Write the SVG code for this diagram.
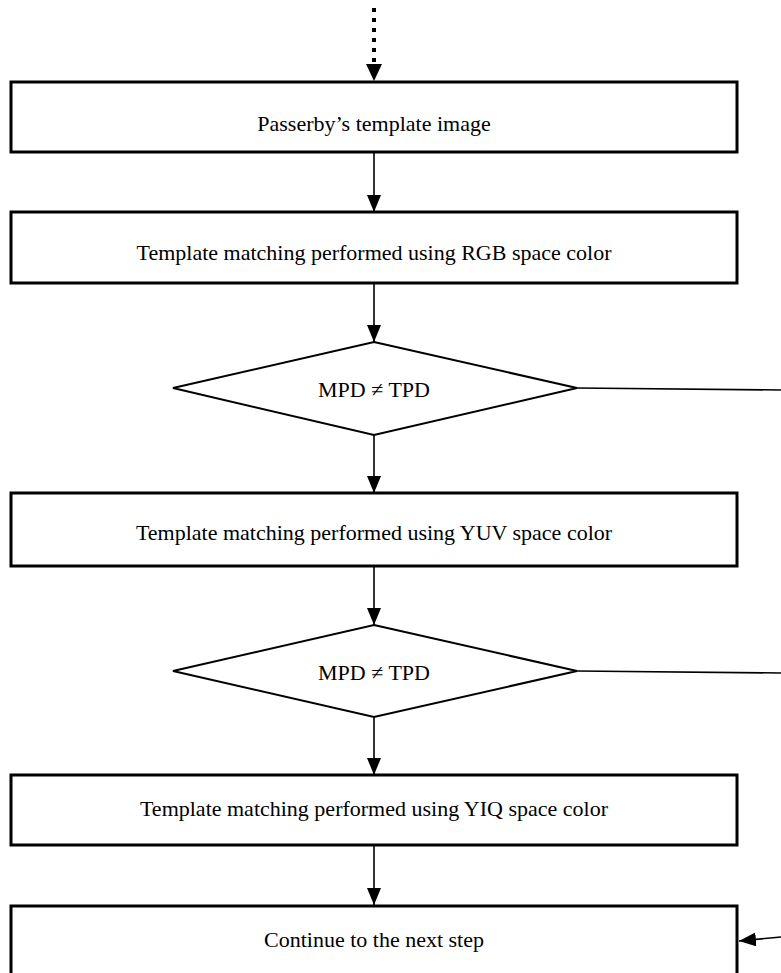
<svg xmlns="http://www.w3.org/2000/svg" width="781" height="973" viewBox="0 0 781 973">
<style>
.box{fill:#fff;stroke:#000;stroke-width:3}
.dia{fill:#fff;stroke:#000;stroke-width:2}
.ln{fill:none;stroke:#000;stroke-width:1.6}
.dot{fill:none;stroke:#000;stroke-width:4;stroke-dasharray:4 6}
.t{font-family:"Liberation Serif","Times New Roman",serif;font-size:22px;fill:#000;text-anchor:middle}
</style>
<defs>
<marker id="ah" viewBox="0 0 17 14" refX="17" refY="7" markerWidth="17" markerHeight="14" markerUnits="userSpaceOnUse" orient="auto">
<path d="M0,0 L17,7 L0,14 Z" fill="#000"/>
</marker>
</defs>
<rect width="781" height="973" fill="#fff"/>
<g id="connectors">
<line class="dot" x1="374" y1="8" x2="374" y2="64"/>
<path d="M366,64 L382,64 L374,81 Z" fill="#000"/>
<line class="ln" x1="374" y1="152" x2="374" y2="212" marker-end="url(#ah)"/>
<line class="ln" x1="374" y1="283" x2="374" y2="342" marker-end="url(#ah)"/>
<line class="ln" x1="374" y1="435" x2="374" y2="493" marker-end="url(#ah)"/>
<line class="ln" x1="374" y1="566" x2="374" y2="625" marker-end="url(#ah)"/>
<line class="ln" x1="374" y1="717" x2="374" y2="775" marker-end="url(#ah)"/>
<line class="ln" x1="374" y1="845" x2="374" y2="905" marker-end="url(#ah)"/>
<line class="ln" x1="577" y1="388" x2="781" y2="390"/>
<line class="ln" x1="577" y1="671" x2="781" y2="673"/>
<line class="ln" x1="781" y1="937" x2="739" y2="941" marker-end="url(#ah)"/>
</g>
<g id="n1"><rect class="box" x="11" y="82" width="726" height="70"/><text class="t" x="374" y="131">Passerby’s template image</text></g>
<g id="n2"><rect class="box" x="11" y="212" width="726" height="71"/><text class="t" x="374" y="260">Template matching performed using RGB space color</text></g>
<g id="n3"><polygon class="dia" points="374,342 577,388 374,435 173,388"/><text class="t" x="374" y="397">MPD ≠ TPD</text></g>
<g id="n4"><rect class="box" x="11" y="493" width="726" height="73"/><text class="t" x="374" y="540">Template matching performed using YUV space color</text></g>
<g id="n5"><polygon class="dia" points="374,625 577,671 374,717 173,671"/><text class="t" x="374" y="680">MPD ≠ TPD</text></g>
<g id="n6"><rect class="box" x="11" y="775" width="726" height="70"/><text class="t" x="374" y="816">Template matching performed using YIQ space color</text></g>
<g id="n7"><rect class="box" x="11" y="906" width="726" height="80"/><text class="t" x="374" y="947">Continue to the next step</text></g>
</svg>
